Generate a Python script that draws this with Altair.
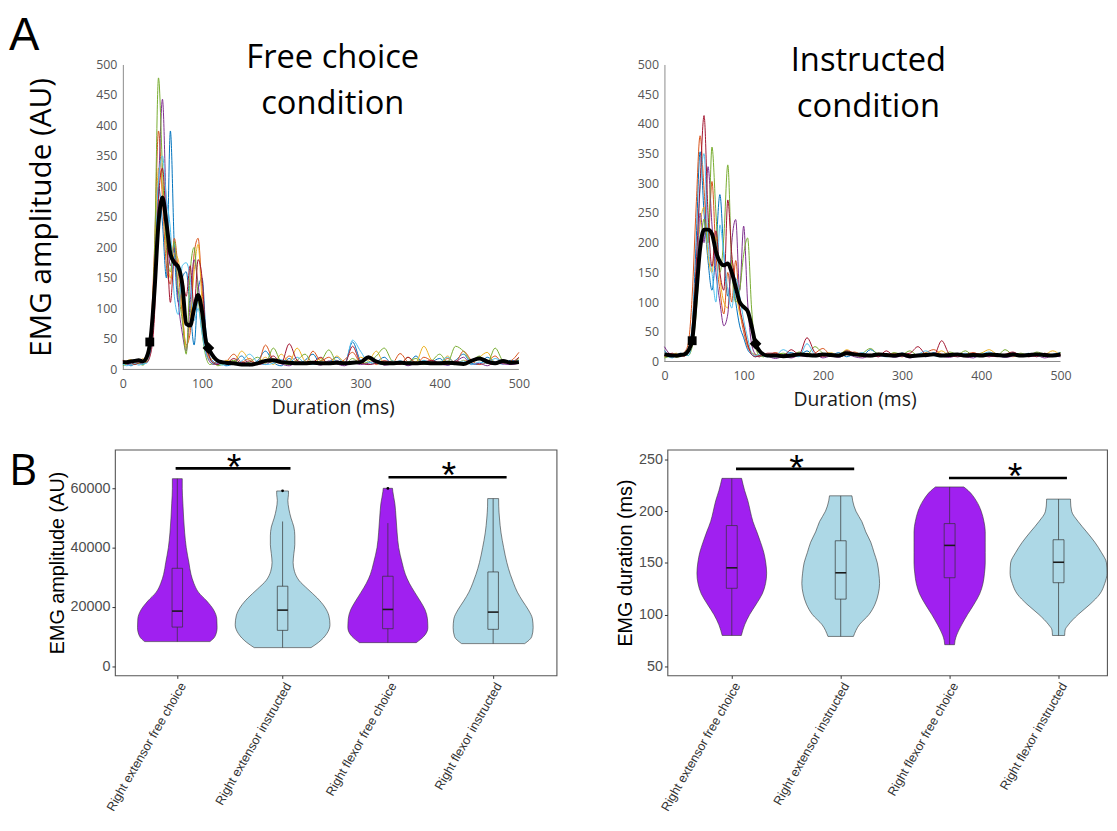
import altair as alt
import pandas as pd

# ---------------- top panels: EMG traces ----------------
T_EARLY = list(range(0, 135, 5))      # 0..130 ms
T_LATE = list(range(140, 510, 10))    # 140..500 ms
TIME = T_EARLY + T_LATE

TRACE_NAMES = ["t1", "t2", "t3", "t4", "t5", "t6", "t7"]
MATLAB_COLORS = ["#0072BD", "#D95319", "#EDB120", "#7E2F8E", "#77AC30", "#4DBEEE", "#A2142F"]

free_t1 = [8,10,6,9,12,8,14,30,120,300,240,150,391,200,110,150,160,100,40,130,150,60,20,12,8,10,6] + \
          [10,22,8,14,30,12,6,18,9,15,25,8,12,20,10,45,15,8,12,20,9,14,10,22,8,12,18,7,15,25,10,8,20,12,9,15,10]
free_t2 = [15,12,8,10,14,11,20,60,200,391,280,170,140,215,160,90,40,60,190,215,130,50,18,10,14,9,12] + \
          [25,12,18,8,40,15,10,22,12,8,30,14,20,10,16,28,12,20,8,14,10,26,12,8,20,14,10,18,12,30,15,8,12,22,10,14,28]
free_t3 = [10,14,16,12,10,18,12,45,160,330,300,200,150,190,180,100,35,80,160,205,110,40,15,20,12,10,15] + \
          [12,30,15,10,20,8,25,12,35,14,10,18,8,22,12,10,20,15,30,10,14,8,20,12,38,15,10,22,8,15,12,20,28,10,15,12,14]
free_t4 = [12,8,10,14,9,12,18,40,150,300,443,260,170,200,110,60,30,110,180,140,80,30,12,8,10,12,9] + \
          [8,12,6,10,8,15,9,6,12,8,10,7,14,9,6,12,8,10,15,7,9,12,6,10,8,14,9,7,12,20,8,10,6,12,9,8,10]
free_t5 = [6,9,12,8,10,7,15,50,190,478,330,200,160,210,130,80,25,160,200,120,60,20,8,10,6,8,10] + \
          [15,8,12,20,10,35,12,8,15,25,10,14,32,12,8,18,10,12,22,35,14,10,12,18,8,14,25,12,38,30,15,22,10,35,14,10,18]
free_t6 = [9,6,8,10,7,9,10,35,130,310,350,280,230,120,90,170,175,150,80,100,60,25,15,9,12,7,8] + \
          [10,14,25,12,8,10,16,12,20,10,8,12,10,15,8,48,30,12,10,8,14,10,12,8,15,10,12,20,10,14,8,12,10,18,12,10,15]
free_t7 = [14,10,12,8,11,15,12,25,90,280,330,230,110,180,170,150,120,170,100,180,150,50,18,10,8,12,10] + \
          [18,10,14,8,12,22,10,42,15,10,12,20,8,14,10,38,12,8,10,14,12,8,20,10,12,15,10,8,14,10,12,18,10,8,14,12,20]
free_mean = [12,12,13,14,15,13,20,50,130,240,282,240,190,175,168,140,75,72,100,122,95,45,30,20,14,12,11] + \
            [10,8,8,10,14,15,12,11,10,10,11,10,10,11,10,11,12,20,13,10,10,11,10,10,11,10,10,11,10,9,14,18,13,10,14,11,12]
free_marks_t = [34, 108]
free_marks_v = [45, 35]

instr_t1 = [18,12,8,10,14,10,20,60,200,353,250,170,120,190,281,180,110,150,100,60,40,20,12,8,10,12,9] + \
           [8,12,15,10,18,8,12,10,15,8,12,10,20,12,8,10,14,9,12,8,15,10,12,8,10,14,9,12,10,8,15,10,12,14,10,12,15]
instr_t2 = [10,14,12,8,10,15,30,110,260,380,290,200,303,180,120,80,150,100,170,90,50,25,15,10,8,12,10] + \
           [15,10,8,12,10,14,22,10,8,12,16,10,8,12,10,14,8,12,10,15,20,12,8,10,12,15,10,8,12,10,14,12,8,10,12,10,14]
instr_t3 = [8,10,12,14,9,10,15,50,150,230,260,180,150,210,140,100,90,170,120,80,60,30,15,12,10,8,12] + \
           [10,8,12,9,14,10,12,15,10,20,12,8,10,14,12,10,8,12,10,14,12,18,10,12,8,10,14,20,12,10,8,12,10,14,12,18,10]
instr_t4 = [25,15,10,8,12,10,14,40,120,250,200,328,230,150,100,60,80,200,239,120,228,100,30,12,8,10,9] + \
           [5,8,6,10,8,12,6,9,7,12,8,6,10,8,12,7,9,6,10,8,12,9,7,10,8,6,12,8,10,7,9,12,8,10,6,9,8]
instr_t5 = [6,8,10,7,9,12,10,25,80,180,240,200,361,250,150,210,331,160,100,120,180,208,90,25,10,8,12] + \
           [12,14,10,16,12,25,14,10,12,18,10,14,22,12,10,15,12,18,10,14,12,10,16,12,18,10,14,12,10,20,12,14,10,16,12,10,15]
instr_t6 = [12,8,6,10,8,12,10,35,140,290,350,200,150,100,230,180,120,90,140,110,70,40,15,10,12,9,8] + \
           [10,20,12,8,30,12,10,14,8,12,10,15,8,12,10,8,14,10,12,18,10,8,12,10,14,8,12,16,10,8,12,10,14,8,12,10,12]
instr_t7 = [10,12,14,8,10,9,18,45,160,300,414,250,160,220,150,120,272,180,130,90,60,30,12,8,10,12,14] + \
           [14,10,20,12,40,15,8,12,10,18,14,10,12,8,18,10,12,14,25,12,10,35,12,8,10,14,12,10,8,12,16,10,12,8,14,10,12]
instr_mean = [12,11,10,10,11,12,18,36,110,190,222,222,215,185,168,162,165,150,125,100,92,85,60,30,18,12,10] + \
             [10,9,10,12,11,10,12,11,10,14,12,11,10,12,11,10,12,9,10,11,12,10,11,12,10,11,10,12,11,10,12,10,11,12,11,10,12]
instr_marks_t = [35, 115]
instr_marks_v = [35, 30]

X_TICKS_TOP = [0, 100, 200, 300, 400, 500]
Y_TICKS_TOP = [0, 50, 100, 150, 200, 250, 300, 350, 400, 450, 500]

# ---------------- bottom panels: violins ----------------
CATEGORIES = ["Right extensor free choice", "Right extensor instructed",
              "Right flexor free choice", "Right flexor instructed"]
GROUPS = ["free", "instr", "free", "instr"]
GROUP_COLORS = {"free": "#A020F0", "instr": "#ADD8E6"}

amp_y = [
    [8300,10000,13000,16000,19000,22000,25000,28000,31000,35000,40000,45000,50000,55000,60000,63300],
    [6270,8000,11000,14000,17000,20000,23000,26000,29000,32000,35000,38000,41000,44000,47000,50000,53000,56000,58000,59150],
    [7950,10000,13000,16000,19000,22000,25000,28000,31000,35000,40000,45000,50000,55000,59000,60050],
    [7620,10000,13000,16000,19000,22000,25000,28000,31000,35000,40000,45000,50000,54000,56580],
]
amp_w = [
    [0.31,0.357,0.378,0.375,0.345,0.28,0.20,0.157,0.13,0.11,0.085,0.07,0.06,0.053,0.047,0.047],
    [0.27,0.34,0.42,0.45,0.44,0.40,0.33,0.24,0.155,0.113,0.10,0.107,0.116,0.116,0.107,0.08,0.06,0.05,0.056,0.056],
    [0.27,0.34,0.38,0.376,0.354,0.307,0.254,0.204,0.166,0.135,0.103,0.088,0.078,0.066,0.047,0.044],
    [0.30,0.367,0.38,0.373,0.335,0.28,0.23,0.194,0.163,0.13,0.10,0.075,0.06,0.053,0.052],
]
amp_lo = [8300, 6270, 7950, 7620]
amp_q1 = [13200, 12100, 12660, 12440]
amp_med = [18600, 18930, 19160, 18260]
amp_q3 = [33050, 27000, 30360, 31820]
amp_hi = [63300, 48850, 48300, 56580]
amp_out_cat = [2, 3]
amp_out_val = [59200, 60000]
amp_bar_x1 = [0.984, 3.006]
amp_bar_x2 = [2.075, 4.128]
amp_bar_y = [66780, 63750]
amp_star_x = [1.54, 3.58]
amp_star_y = [70140, 67560]

dur_y = [
    [79.7,90,100,110,120,130,140,150,160,170,180,190,200,210,220,231.8],
    [78.8,90,100,110,120,130,140,150,160,170,180,190,200,210,214.9],
    [70.8,75,80,90,100,110,120,130,140,150,160,170,180,190,200,210,220,223.5],
    [79.7,85,90,100,110,120,130,140,150,160,170,180,190,200,210,211.7],
]
dur_w = [
    [0.088,0.118,0.164,0.224,0.28,0.31,0.32,0.312,0.294,0.264,0.23,0.194,0.17,0.148,0.118,0.09],
    [0.117,0.17,0.26,0.315,0.345,0.357,0.35,0.336,0.306,0.276,0.23,0.194,0.14,0.11,0.103],
    [0.045,0.05,0.064,0.11,0.164,0.224,0.276,0.306,0.32,0.327,0.327,0.327,0.327,0.315,0.29,0.245,0.17,0.13],
    [0.056,0.06,0.09,0.18,0.29,0.38,0.424,0.445,0.44,0.394,0.333,0.258,0.18,0.12,0.11,0.11],
]
dur_lo = [79.7, 78.8, 70.8, 79.7]
dur_q1 = [125.4, 114.9, 135.6, 130.8]
dur_med = [145.2, 140.4, 166.9, 150.6]
dur_q3 = [186.1, 171.4, 188.0, 172.4]
dur_hi = [231.8, 214.9, 223.5, 211.7]
dur_bar_x1 = [1.039, 2.994]
dur_bar_x2 = [2.124, 4.077]
dur_bar_y = [241, 232.1]
dur_star_x = [1.594, 3.6]
dur_star_y = [250.6, 242.6]

AXIS_GRAY = "#8c8c8c"


# ---------------- helpers ----------------
def traces_frame(series):
    rows = []
    for name, vals in zip(TRACE_NAMES, series):
        for t, v in zip(TIME, vals):
            rows.append({"t": t, "v": v, "trace": name})
    return pd.DataFrame(rows)


def one_row():
    return pd.DataFrame({"k": [0]})


def letter_mark(txt, x, y, size, font):
    return alt.Chart(one_row()).mark_text(font=font, fontSize=size, align="left",
                                          baseline="alphabetic", color="black").encode(
        x=alt.value(x), y=alt.value(y), text=alt.value(txt))


def top_panel(series, mean, mk_t, mk_v, ytitle, title_lines, title_x, title_y,
              width, height, xmin, yoffset, ytitle_pad, xtitle_x, xtitle_y, extras):
    xs = alt.Scale(domain=[xmin, 500], nice=False, zero=False)
    ys = alt.Scale(domain=[0, 500], nice=False, zero=False)
    xaxis = alt.Axis(values=X_TICKS_TOP, title="Duration (ms)", labelFont="Open Sans",
                     labelFontSize=12.5, labelColor="#555555", domain=False,
                     ticks=False, labelPadding=8, grid=False, labelFlush=False,
                     titleFont="Open Sans", titleFontSize=19.5, titleFontWeight="normal",
                     titleColor="#1a1a1a", titleX=xtitle_x, titleY=xtitle_y,
                     titleBaseline="top", titleAlign="center")
    yaxis = alt.Axis(values=Y_TICKS_TOP, title=ytitle, labelFont="Open Sans",
                     labelFontSize=12.5, labelColor="#555555", domainColor=AXIS_GRAY,
                     ticks=False, labelPadding=6, grid=False, labelFlush=False, offset=yoffset,
                     titleFont="Open Sans", titleFontSize=30, titleFontWeight="normal",
                     titleColor="black", titlePadding=ytitle_pad)
    X = lambda f: alt.X(f, scale=xs, axis=xaxis)
    Y = lambda f: alt.Y(f, scale=ys, axis=yaxis)
    lines = alt.Chart(traces_frame(series)).mark_line(strokeWidth=1, interpolate="monotone").encode(
        x=X("t:Q"), y=Y("v:Q"),
        color=alt.Color("trace:N", scale=alt.Scale(domain=TRACE_NAMES, range=MATLAB_COLORS), legend=None),
    )
    # x axis baseline from 0 to 500 ms
    base = alt.Chart(pd.DataFrame({"a": [0], "b": [500], "z": [0]})).mark_rule(
        color=AXIS_GRAY, strokeWidth=1).encode(x=X("a:Q"), x2="b:Q", y=Y("z:Q"))
    mean_df = pd.DataFrame({"t": TIME, "v": mean})
    mean_line = alt.Chart(mean_df).mark_line(color="black", strokeWidth=4, interpolate="monotone").encode(
        x=X("t:Q"), y=Y("v:Q"))
    sq = alt.Chart(pd.DataFrame({"t": [mk_t[0]], "v": [mk_v[0]]})).mark_point(
        filled=True, opacity=1, color="black", shape="square", size=80).encode(x=X("t:Q"), y=Y("v:Q"))
    dm = alt.Chart(pd.DataFrame({"t": [mk_t[1]], "v": [mk_v[1]]})).mark_point(
        filled=True, opacity=1, color="black", shape="diamond", size=140).encode(x=X("t:Q"), y=Y("v:Q"))
    title_txt = alt.Chart(one_row()).mark_text(font="Open Sans", fontSize=33, align="center",
                                               baseline="alphabetic", lineHeight=46, color="black").encode(
        x=alt.value(title_x), y=alt.value(title_y), text=alt.value(title_lines))
    layers = [base, lines, mean_line, sq, dm, title_txt] + extras
    return alt.layer(*layers).properties(width=width, height=height,
                                         view=alt.ViewBackground(stroke="transparent"))


def violin_panel(ys_list, ws_list, lo, q1, med, q3, hi, out_cat, out_val,
                 bx1, bx2, by, sx, sy, ydomain, yticks, ytitle, xdomain, width, extras):
    vrows = []
    for i, (yy, ww) in enumerate(zip(ys_list, ws_list)):
        for a, b in zip(yy, ww):
            vrows.append({"cat": i + 1, "grp": GROUPS[i], "y": a, "hw": b})
    vdf = pd.DataFrame(vrows)
    bdf = pd.DataFrame({"cat": [1, 2, 3, 4], "lo": lo, "q1": q1, "med": med, "q3": q3, "hi": hi})
    xs = alt.Scale(domain=xdomain, nice=False, zero=False)
    ysc = alt.Scale(domain=ydomain, nice=False, zero=False)
    label_arr = "[''," + ",".join("'" + c + "'" for c in CATEGORIES) + "][datum.value]"
    xaxis = alt.Axis(values=[1, 2, 3, 4], labelExpr=label_arr, labelAngle=300, labelAlign="right",
                     labelBaseline="top", labelFont="Liberation Sans", labelFontSize=12.7,
                     labelColor="#333333", labelLimit=400, tickColor="#333333", tickSize=3,
                     domain=False, grid=False, title="", labelPadding=2, labelFlush=False)
    yaxis = alt.Axis(values=yticks, format="d", labelFont="Liberation Sans", labelFontSize=14.5,
                     labelColor="#4d4d4d", tickColor="#333333", tickSize=3, domain=False, grid=False,
                     labelPadding=2, labelFlush=False, title=ytitle, titleFont="Liberation Sans",
                     titleFontSize=20, titleFontWeight="normal", titleColor="black", titlePadding=3)
    X = lambda f: alt.X(f, scale=xs, axis=xaxis)
    Y = lambda f: alt.Y(f, scale=ysc, axis=yaxis)
    layers = []
    for g in ["free", "instr"]:
        layers.append(alt.Chart(vdf).transform_filter(alt.datum.grp == g).transform_calculate(
            xl="datum.cat - datum.hw", xr="datum.cat + datum.hw"
        ).mark_area(orient="horizontal", interpolate="monotone", stroke="#333333", strokeWidth=0.6,
                    opacity=1, color=GROUP_COLORS[g]).encode(
            y=Y("y:Q"), x=alt.X("xl:Q", scale=xs, axis=xaxis, stack=None), x2="xr:Q",
            detail="cat:N"))
    boxbase = alt.Chart(bdf).transform_calculate(bl="datum.cat - 0.05", br="datum.cat + 0.05")
    layers.append(boxbase.mark_rect(fillOpacity=0, stroke="#333333", strokeWidth=0.7).encode(
        x=X("bl:Q"), x2="br:Q", y=Y("q1:Q"), y2="q3:Q"))
    layers.append(boxbase.mark_rule(color="#333333", strokeWidth=0.7).encode(
        x=X("cat:Q"), y=Y("lo:Q"), y2="q1:Q"))
    layers.append(boxbase.mark_rule(color="#333333", strokeWidth=0.7).encode(
        x=X("cat:Q"), y=Y("q3:Q"), y2="hi:Q"))
    layers.append(boxbase.mark_rule(color="#1a1a1a", strokeWidth=1.6).encode(
        x=X("bl:Q"), x2="br:Q", y=Y("med:Q")))
    if out_cat:
        odf = pd.DataFrame({"cat": out_cat, "v": out_val})
        layers.append(alt.Chart(odf).mark_point(filled=True, color="black", size=8, opacity=1).encode(
            x=X("cat:Q"), y=Y("v:Q")))
    sdf = pd.DataFrame({"x1": bx1, "x2": bx2, "yb": by, "sx": sx, "sy": sy})
    layers.append(alt.Chart(sdf).mark_rule(color="black", strokeWidth=2.6).encode(
        x=X("x1:Q"), x2="x2:Q", y=Y("yb:Q")))
    layers.append(alt.Chart(sdf).mark_text(text="*", font="Liberation Sans", fontSize=38,
                                           baseline="middle", align="center", dy=11, color="black").encode(
        x=X("sx:Q"), y=Y("sy:Q")))
    layers += extras
    return alt.layer(*layers).properties(width=width, height=228,
                                         view=alt.ViewBackground(stroke="#555555", strokeWidth=1.1))


# top-left plot area starts 8px left of its 0 ms axis so that it lines up with panel B
TL = top_panel([free_t1, free_t2, free_t3, free_t4, free_t5, free_t6, free_t7], free_mean,
               free_marks_t, free_marks_v, "EMG amplitude (AU)", ["Free choice", "condition"],
               220, 4, 408, 308, -10, -8, 40, 220, 30,
               [letter_mark("A", -107, -15, 46, "Liberation Sans")])
TR = top_panel([instr_t1, instr_t2, instr_t3, instr_t4, instr_t5, instr_t6, instr_t7], instr_mean,
               instr_marks_t, instr_marks_v, "", ["Instructed", "condition"],
               206, 7, 400, 300, 0, 0, 10, 192, 29, [])

BL = violin_panel(amp_y, amp_w, amp_lo, amp_q1, amp_med, amp_q3, amp_hi, amp_out_cat, amp_out_val,
                  amp_bar_x1, amp_bar_x2, amp_bar_y, amp_star_x, amp_star_y,
                  [-3100, 73100], [0, 20000, 40000, 60000], "EMG amplitude (AU)",
                  [0.4075, 4.602], 446, [letter_mark("B", -107, 36, 44, "Open Sans")])
BR = violin_panel(dur_y, dur_w, dur_lo, dur_q1, dur_med, dur_q3, dur_hi, [], [],
                  dur_bar_x1, dur_bar_x2, dur_bar_y, dur_star_x, dur_star_y,
                  [41.1, 259.6], [50, 100, 150, 200, 250], "EMG duration (ms)",
                  [0.409, 4.445], 444, [])

top = alt.hconcat(TL, TR, spacing=107)
bottom = alt.hconcat(BL, BR, spacing=58)
chart = alt.vconcat(top, bottom, spacing=31).properties(padding=0).configure_view(stroke="transparent")

chart.save("out.html", embed_options={"renderer": "svg", "actions": False})
